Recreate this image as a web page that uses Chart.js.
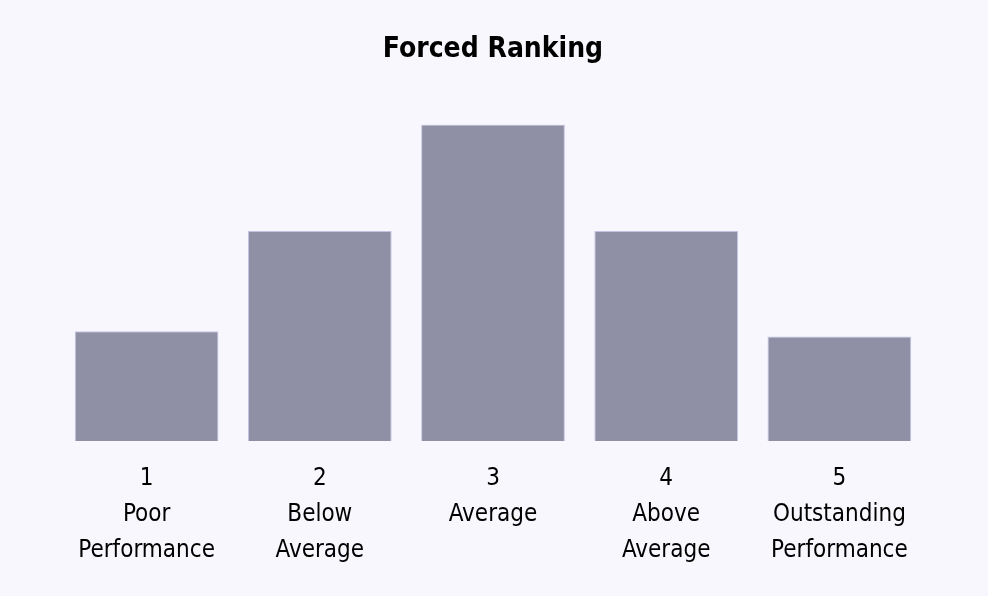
<!DOCTYPE html>
<html>
<head>
<meta charset="utf-8">
<script src="https://cdn.jsdelivr.net/npm/chart.js@4/dist/chart.umd.min.js"></script>
<style>
  html, body { margin: 0; padding: 0; background: #f8f7fe; }
  #wrap { width: 988px; height: 596px; }
</style>
</head>
<body>
<div id="wrap"><canvas id="rankChart"></canvas></div>
<script>
// chart data
const rankNumbers = ["1", "2", "3", "4", "5"];
const rankNames = [["Poor", "Performance"], ["Below", "Average"], ["Average"], ["Above", "Average"], ["Outstanding", "Performance"]];
const shareValues = [10.4, 19.9, 30, 19.9, 9.9];

const FONT = '"DejaVu Sans Condensed", "Liberation Sans Narrow", sans-serif';

const labels = rankNumbers.map((n, i) => [n].concat(rankNames[i]));

new Chart(document.getElementById("rankChart"), {
    type: "bar",
    data: {
        labels: labels,
        datasets: [{
            data: shareValues,
            backgroundColor: "#8f90a6",
            borderColor: "#c3c4e4",
            borderWidth: 1,
            barPercentage: 0.83,
            categoryPercentage: 1
        }]
    },
    options: {
        responsive: true,
        maintainAspectRatio: false,
        animation: false,
        layout: { padding: { left: 60, right: 62, top: 0, bottom: 15 } },
        plugins: {
            legend: { display: false },
            tooltip: { enabled: false },
            title: {
                display: true,
                text: "Forced Ranking",
                color: "#000",
                font: { family: FONT, size: 28, weight: "bold" },
                padding: { top: 33, bottom: 58 }
            }
        },
        scales: {
            x: {
                grid: { display: false },
                border: { display: false },
                ticks: {
                    color: "#000",
                    padding: 12,
                    maxRotation: 0,
                    autoSkip: false,
                    font: { family: FONT, size: 24, lineHeight: 1.5 }
                }
            },
            y: {
                display: false,
                min: 0,
                max: 30
            }
        }
    }
});
</script>
</body>
</html>
